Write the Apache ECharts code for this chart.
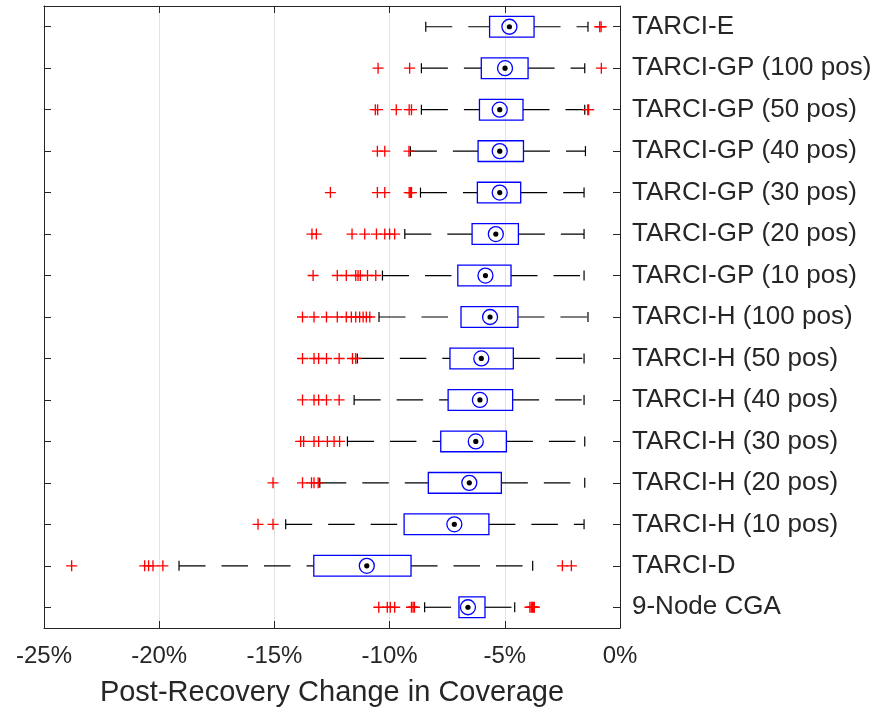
<!DOCTYPE html>
<html>
<head>
<meta charset="utf-8">
<script src="https://cdn.jsdelivr.net/npm/echarts@6/dist/echarts.min.js"></script>
<style>
  html, body { margin: 0; padding: 0; background: #fff; }
  #chart { width: 878px; height: 711px; }
</style>
</head>
<body>
<div id="chart"></div>
<script>
// Box plot of post-recovery coverage change (%) for each method
const categories = [
  'TARCI-E',
  'TARCI-GP (100 pos)',
  'TARCI-GP (50 pos)',
  'TARCI-GP (40 pos)',
  'TARCI-GP (30 pos)',
  'TARCI-GP (20 pos)',
  'TARCI-GP (10 pos)',
  'TARCI-H (100 pos)',
  'TARCI-H (50 pos)',
  'TARCI-H (40 pos)',
  'TARCI-H (30 pos)',
  'TARCI-H (20 pos)',
  'TARCI-H (10 pos)',
  'TARCI-D',
  '9-Node CGA'
];

const whiskerLow  = [-8.43, -8.62, -8.62, -9.10, -8.66, -9.34, -10.31, -10.46, -11.40, -11.54, -11.83, -13.03, -14.51, -19.14, -8.48];
const q1          = [-5.66, -6.02, -6.10, -6.16, -6.19, -6.42, -7.04, -6.90, -7.38, -7.46, -7.78, -8.32, -9.37, -13.29, -6.99];
const median      = [-4.80, -4.99, -5.22, -5.22, -5.22, -5.39, -5.84, -5.64, -6.02, -6.08, -6.26, -6.54, -7.19, -10.99, -6.60];
const q3          = [-3.73, -3.99, -4.21, -4.19, -4.31, -4.41, -4.73, -4.43, -4.63, -4.66, -4.93, -5.15, -5.69, -9.07, -5.86];
const whiskerHigh = [-1.39, -1.53, -1.53, -1.50, -1.56, -1.56, -1.56, -1.39, -1.56, -1.56, -1.53, -1.53, -1.56, -3.79, -4.57];

const outliers = [
  [-0.88, -0.82],
  [-10.50, -9.13, -0.81],
  [-10.62, -10.52, -9.71, -9.15, -9.05, -1.40, -1.36],
  [-10.53, -10.21, -9.16],
  [-12.57, -10.53, -10.21, -9.15, -9.10, -9.05],
  [-13.37, -13.18, -11.63, -11.08, -10.57, -10.21, -10.00, -9.78],
  [-13.32, -12.27, -11.88, -11.47, -11.37, -11.27, -10.96, -10.60],
  [-13.78, -13.28, -12.74, -12.27, -11.88, -11.66, -11.47, -11.30, -11.15, -11.01, -10.86],
  [-13.78, -13.28, -13.08, -12.74, -12.19, -11.61, -11.47],
  [-13.78, -13.28, -13.08, -12.74, -12.19],
  [-13.86, -13.73, -13.28, -13.08, -12.70, -12.41, -12.17],
  [-15.06, -13.78, -13.39, -13.28, -13.10],
  [-15.71, -15.06],
  [-23.80, -20.63, -20.46, -20.27, -19.84, -2.50, -2.11],
  [-10.47, -10.10, -9.97, -9.78, -9.05, -8.98, -8.92, -3.91, -3.85, -3.80, -3.75, -3.72]
];

const xMin = -25, xMax = 0, xStep = 5;

const FONT = '"Liberation Sans", Arial, Helvetica, sans-serif';
const INK = '#262626';

const boxData = categories.map((c, i) => [i, whiskerLow[i], q1[i], median[i], q3[i], whiskerHigh[i]]);
const outlierData = [];
outliers.forEach((list, i) => list.forEach(v => outlierData.push([v, i])));

function renderBox(params, api) {
  const idx = api.value(0);
  const y = api.coord([0, idx])[1];
  const xs = [1, 2, 3, 4, 5].map(d => api.coord([api.value(d), idx])[0]);
  const [xLo, xQ1, xMed, xQ3, xHi] = xs;
  const band = api.size([0, 1])[1];
  const boxH = band * 0.5;
  const capH = 10;
  const dash = { stroke: '#000', lineWidth: 1.2, lineDash: [26.5, 16], lineDashOffset: 0, fill: null };
  const solid = { stroke: '#000', lineWidth: 1.2, fill: null };
  return {
    type: 'group',
    children: [
      // whiskers are drawn left-to-right so the dash pattern starts at the lower end
      { type: 'line', shape: { x1: xLo, y1: y, x2: xQ1, y2: y }, style: dash },
      { type: 'line', shape: { x1: xQ3, y1: y, x2: xHi, y2: y }, style: dash },
      { type: 'line', shape: { x1: xLo, y1: y - capH / 2, x2: xLo, y2: y + capH / 2 }, style: solid },
      { type: 'line', shape: { x1: xHi, y1: y - capH / 2, x2: xHi, y2: y + capH / 2 }, style: solid },
      { type: 'rect', shape: { x: xQ1, y: y - boxH / 2, width: xQ3 - xQ1, height: boxH },
        style: { stroke: '#0000ff', lineWidth: 1.3, fill: null } },
      { type: 'circle', shape: { cx: xMed, cy: y, r: 7.5 },
        style: { stroke: '#0000ff', lineWidth: 1.3, fill: null } },
      { type: 'circle', shape: { cx: xMed, cy: y, r: 2.6 },
        style: { fill: '#000', stroke: null } }
    ]
  };
}

const axisLineStyle = { show: true, onZero: false, lineStyle: { color: INK, width: 1 } };
const tickStyle = { show: true, inside: true, length: 7, lineStyle: { color: INK, width: 1 } };

const chart = echarts.init(document.getElementById('chart'), null, { renderer: 'canvas' });
chart.setOption({
  animation: false,
  backgroundColor: '#ffffff',
  textStyle: { fontFamily: FONT },
  grid: { left: 44, right: 258, top: 6, bottom: 83, containLabel: false, outerBoundsMode: 'none' },
  xAxis: [
    {
      type: 'value', position: 'bottom', min: xMin, max: xMax, interval: xStep,
      axisLine: axisLineStyle,
      axisTick: tickStyle,
      axisLabel: {
        formatter: v => v + '%', fontSize: 24, color: INK, margin: 16, fontFamily: FONT
      },
      splitLine: { show: true, lineStyle: { color: '#e3e3e3', width: 1 } },
      name: 'Post-Recovery Change in Coverage',
      nameLocation: 'middle', nameGap: 50,
      nameTextStyle: { fontSize: 29, color: INK, fontFamily: FONT }
    },
    {
      type: 'value', position: 'top', min: xMin, max: xMax, interval: xStep,
      axisLine: axisLineStyle,
      axisTick: tickStyle,
      axisLabel: { show: false },
      splitLine: { show: false }
    }
  ],
  yAxis: [
    {
      type: 'category', data: categories, inverse: true, position: 'right',
      axisLine: axisLineStyle,
      axisTick: Object.assign({ alignWithLabel: true }, tickStyle),
      axisLabel: { fontSize: 26, color: INK, margin: 12, fontFamily: FONT },
      splitLine: { show: false }
    },
    {
      type: 'category', data: categories, inverse: true, position: 'left',
      axisLine: axisLineStyle,
      axisTick: Object.assign({ alignWithLabel: true }, tickStyle),
      axisLabel: { show: false },
      splitLine: { show: false }
    }
  ],
  series: [
    {
      type: 'custom',
      xAxisIndex: 0, yAxisIndex: 0,
      renderItem: renderBox,
      encode: { x: [1, 2, 3, 4, 5], y: 0 },
      data: boxData,
      silent: true,
      z: 2
    },
    {
      type: 'scatter',
      xAxisIndex: 0, yAxisIndex: 0,
      symbol: 'path://M0,4.4H10V5.6H0Z M4.4,0H5.6V10H4.4Z',
      symbolSize: 11,
      itemStyle: { color: '#ff0000', opacity: 1 },
      data: outlierData,
      silent: true,
      z: 3
    }
  ]
});
</script>
</body>
</html>
